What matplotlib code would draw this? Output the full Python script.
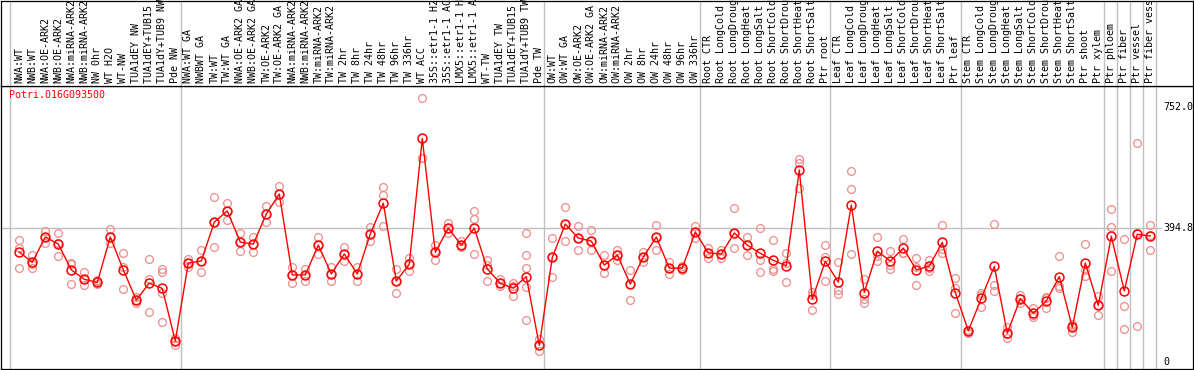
import matplotlib
matplotlib.use("Agg")
import matplotlib.pyplot as plt
import numpy as np

GENE = "Potri.016G093500"

labels = [
    "NWA:WT", "NWB:WT", "NWA:OE-ARK2", "NWB:OE-ARK2", "NWA:miRNA-ARK2",
    "NWB:miRNA-ARK2", "NW 0hr", "WT H2O", "WT-NW", "TUA1dEY NW",
    "TUA1dEY+TUB15 NW", "TUA1dY+TUB9 NW", "Pde NW",
    "NWA:WT GA", "NWBWT GA", "TW:WT", "TW:WT GA", "NWA:OE-ARK2 GA",
    "NWB:OE-ARK2 GA", "TW:OE-ARK2", "TW:OE-ARK2 GA", "NWA:miRNA-ARK2 GA",
    "NWB:miRNA-ARK2 GA", "TW:miRNA-ARK2", "TW:miRNA-ARK2 GA", "TW 2hr",
    "TW 8hr", "TW 24hr", "TW 48hr", "TW 96hr", "TW 336hr", "WT ACC",
    "35S::etr1-1 H2O", "35S::etr1-1 ACC", "LMX5::etr1-1 H2O",
    "LMX5::etr1-1 ACC", "WT-TW", "TUA1dEY TW", "TUA1dEY+TUB15 TW",
    "TUA1dY+TUB9 TW", "Pde TW",
    "OW:WT", "OW:WT GA", "OW:OE-ARK2", "OW:OE-ARK2 GA", "OW:miRNA-ARK2",
    "OW:miRNA-ARK2 GA", "OW 2hr", "OW 8hr", "OW 24hr", "OW 48hr", "OW 96hr",
    "OW 336hr",
    "Root CTR", "Root LongCold", "Root LongDrought", "Root LongHeat",
    "Root LongSalt", "Root ShortCold", "Root ShortDrought", "Root ShortHeat",
    "Root ShortSalt", "Ptr root",
    "Leaf CTR", "Leaf LongCold", "Leaf LongDrought", "Leaf LongHeat",
    "Leaf LongSalt", "Leaf ShortCold", "Leaf ShortDrought", "Leaf ShortHeat",
    "Leaf ShortSalt", "Ptr leaf",
    "Stem CTR", "Stem LongCold", "Stem LongDrought", "Stem LongHeat",
    "Stem LongSalt", "Stem ShortCold", "Stem ShortDrought", "Stem ShortHeat",
    "Stem ShortSalt", "Ptr shoot", "Ptr xylem",
    "Ptr phloem", "Ptr fiber", "Ptr vessel", "Ptr fiber vessel",
]

# mean expression per sample
means = [
    325, 294, 369, 348, 272, 244, 235, 369, 272, 183, 233, 217, 62,
    292, 298, 413, 446, 354, 348, 437, 496, 257, 257, 345, 260, 319, 260,
    378, 469, 239, 289, 660, 324, 395, 345, 395, 275, 232, 218, 252, 49,
    309, 407, 366, 357, 286, 316, 230, 310, 369, 277, 277, 384,
    322, 319, 381, 345, 321, 300, 284, 567, 186, 297,
    236, 463, 205, 327, 298, 336, 272, 283, 353, 205,
    92, 188, 282, 85, 187, 144, 180, 252, 102, 292, 167,
    371, 210, 377, 372,
]

# individual replicates per sample
reps = [
    [359, 336, 277], [316, 288, 278], [387, 369, 352], [380, 351, 313],
    [293, 288, 229], [266, 244, 228], [242, 238, 230], [393, 369, 352],
    [322, 280, 215], [193, 183, 175], [303, 245, 147], [275, 265, 203, 118],
    [72, 62, 50],
    [304, 292, 280], [330, 298, 266], [487, 413, 340], [470, 446, 420],
    [380, 354, 328], [370, 348, 326], [460, 437, 414], [520, 496, 472],
    [280, 257, 234], [275, 257, 240], [370, 345, 320], [280, 260, 240],
    [340, 319, 298], [280, 260, 240], [400, 378, 356], [517, 492, 401],
    [275, 240, 203], [307, 291, 270], [778, 601, 601], [345, 327, 300],
    [411, 395, 380], [356, 345, 339], [446, 421, 318], [300, 285, 238],
    [245, 232, 225], [234, 224, 194], [380, 315, 278, 220, 124],
    [67, 49, 32],
    [365, 311, 251], [458, 407, 356], [402, 366, 331], [389, 357, 331],
    [316, 286, 262], [330, 316, 301], [271, 230, 183], [325, 310, 295],
    [404, 369, 331], [295, 277, 259], [283, 277, 271], [401, 384, 366],
    [336, 322, 307], [331, 319, 307], [455, 381, 336], [370, 345, 316],
    [397, 301, 267], [359, 274, 269], [322, 292, 235], [598, 588, 513],
    [207, 198, 154], [345, 311, 238],
    [295, 213, 200], [564, 510, 319], [245, 186, 175], [369, 314, 297],
    [327, 286, 275], [363, 322, 322], [307, 281, 227], [302, 278, 270],
    [404, 335, 321], [248, 217, 145],
    [95, 93, 87], [203, 198, 163], [407, 227, 210], [102, 82, 70],
    [198, 188, 175], [159, 139, 134], [193, 189, 159], [313, 224, 219],
    [112, 106, 89], [348, 272, 254], [195, 169, 138],
    [451, 398, 268], [362, 166, 97], [646, 382, 106], [404, 376, 330],
]

# group separators (after these sample numbers)
group_ends = [0, 13, 41, 53, 63, 73, 84, 85, 86, 87, 88]
ytick_vals = [0, 394.8, 752.0]
ytick_text = ["0", "394.8", "752.0"]

RED = "#ff0000"
PALE = "#ee8c8c"
GRID = "#c0c0c0"
FONT = "DejaVu Sans Mono"
FS = 7.2

W, H = 1194, 370
fig = plt.figure(figsize=(W / 100, H / 100), dpi=100)

x = np.arange(1, len(labels) + 1)
xlim = ((1 - 19.3) / 13 + 1, (1193 - 19.3) / 13 + 1)

ax = fig.add_axes([1 / W, 1 / H, 1192 / W, 283 / H])
ax_head = fig.add_axes([1 / W, 284 / H, 1192 / W, 85.5 / H])

for a in (ax, ax_head):
    a.set_xlim(xlim)
    a.set_xticks([])
    a.set_yticks([])
    for s in a.spines.values():
        s.set_color("black")
        s.set_linewidth(0.9)
    for g in group_ends:
        gx = g + 0.4 if g else 0.28
        a.axvline(gx, color=GRID, lw=1.0, zorder=0)

ax.set_ylim(-20.7, 814.8)
ax_head.set_ylim(0, 1)

# horizontal reference line
ax.axhline(394.8, xmin=0, xmax=0.973, color=GRID, lw=1.0, zorder=0)

# replicates
for xi, r in zip(x, reps):
    ax.plot([xi] * len(r), r, ls="", marker="o", ms=5.6, mfc="none",
            mec=PALE, mew=0.9, zorder=2)

# mean line
ax.plot(x, means, color=RED, lw=1.0, marker="o", ms=6.4, mfc="none",
        mec=RED, mew=1.1, zorder=3)

# right-hand value labels
for v, t in zip(ytick_vals, ytick_text):
    ax.text(0.9748, v, t, transform=ax.get_yaxis_transform(), ha="left",
            va="center", fontsize=FS, family=FONT, color="black")

ax.text(8 / 1192, 0.985, GENE, transform=ax.transAxes, ha="left", va="top",
        fontsize=FS, family=FONT, color=RED)

# sample names (truncated like the original)
for xi, lab in zip(x, labels):
    ax_head.text(xi, 0.03, lab[:14], transform=ax_head.get_xaxis_transform(),
                 rotation=90, ha="center", va="bottom", fontsize=FS,
                 family=FONT, color="black")

fig.savefig("out.png", dpi=100)
